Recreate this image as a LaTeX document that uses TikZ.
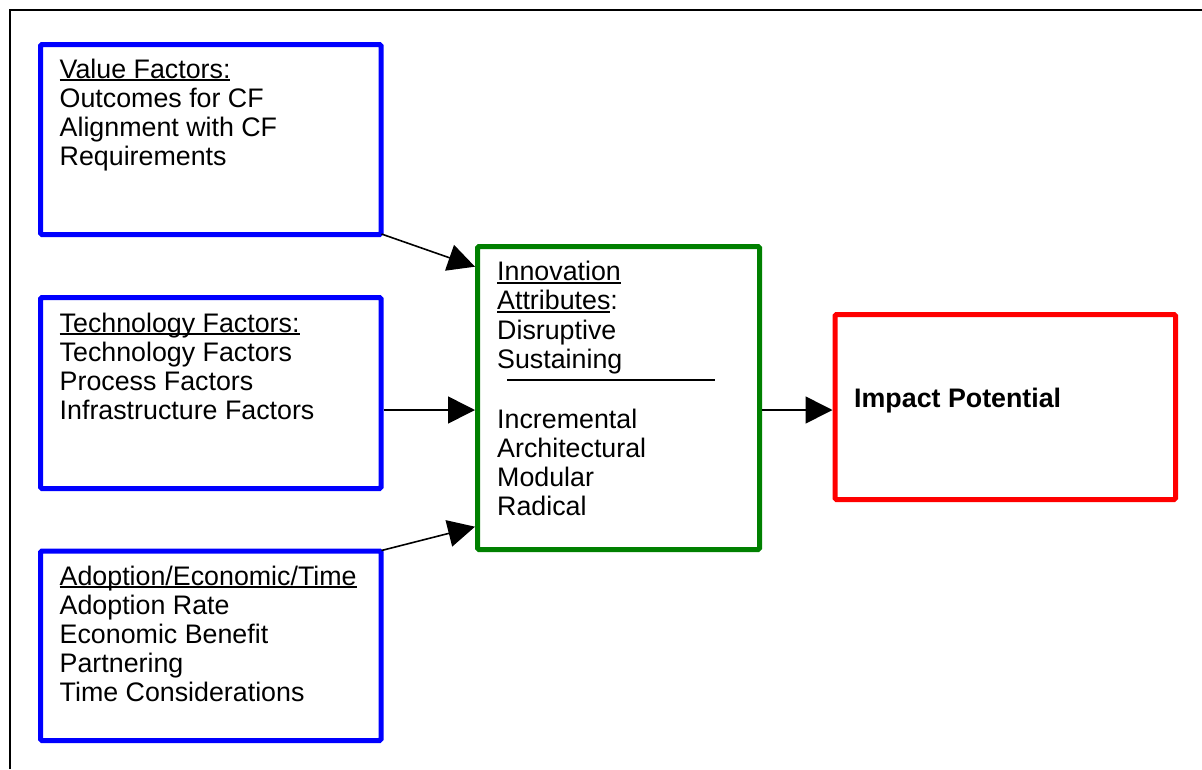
\documentclass[tikz,border=0pt]{standalone}
\usepackage{fontspec}
\setmainfont{Liberation Sans}
\usetikzlibrary{arrows.meta}
\newcommand\myul[1]{\setbox0\hbox{#1}\rlap{\rule[-3pt]{\wd0}{2pt}}\box0}
\definecolor{bxblue}{RGB}{0,0,255}
\definecolor{bxgreen}{RGB}{0,128,0}
\definecolor{bxred}{RGB}{255,0,0}
\begin{document}
\begin{tikzpicture}[x=1pt,y=-1pt,
  box/.style={draw, line width=5pt, inner sep=0pt, rounded corners=1.5pt},
  txt/.style={anchor=base west, inner sep=0pt, font=\fontsize{26.8pt}{29.3pt}\selectfont},
  arr/.style={line width=1.6pt, -{Triangle[length=27pt,width=27pt]}}]
\useasboundingbox (0,0) rectangle (1202,769);
% outer frame
\draw[line width=2pt] (9.5,769) -- (9.5,10) -- (1202,10);
% boxes
\node[box, bxblue, minimum width=340.5pt, minimum height=190pt] (v) at (210.75,139.5) {};
\node[box, bxblue, minimum width=340.5pt, minimum height=191pt] (t) at (210.75,393) {};
\node[box, bxblue, minimum width=340.5pt, minimum height=189.5pt] (a) at (210.75,645.75) {};
\node[box, bxgreen, minimum width=282pt, minimum height=303pt] (g) at (618.5,398) {};
\node[box, bxred, minimum width=340.5pt, minimum height=185pt] (r) at (1005.25,407) {};
% texts
\foreach \t [count=\i] in {{\myul{Value Factors:}}, Outcomes for CF, Alignment with CF, Requirements}
  \node[txt] (vt\i) at (59.5,{78+29.3*(\i-1)}) {\t};
\foreach \t [count=\i] in {{\myul{Technology Factors:}}, Technology Factors, Process Factors, Infrastructure Factors}
  \node[txt] (tt\i) at (59.5,{332+29.1*(\i-1)}) {\t};
\foreach \t [count=\i] in {{\myul{Adoption/Economic/Time}}, Adoption Rate, Economic Benefit, Partnering, Time Considerations}
  \node[txt] (at\i) at (59.5,{585+29.1*(\i-1)}) {\t};
\foreach \t [count=\i] in {{\myul{Innovation}}, {\myul{Attributes}:}, Disruptive, Sustaining}
  \node[txt] (gt\i) at (497,{280.7+29.2*(\i-1)}) {\t};
\foreach \t [count=\i] in {Incremental, Architectural, Modular, Radical}
  \node[txt] (gb\i) at (497,{428+29.1*(\i-1)}) {\t};
\node[txt, font=\fontsize{26.8pt}{29.3pt}\selectfont\bfseries] (rt) at (854,407) {Impact Potential};
% separator in green box
\draw[line width=1.7pt] (507,380) -- (715,380);
% connectors
\coordinate (y410) at (0,410);
\draw[arr] ([shift={(-2,-3)}]v.south east) -- ([shift={(0,22.7)}]g.north west);
\draw[arr] (t.east |- y410) -- (g.west |- y410);
\draw[arr] ([shift={(-2,2)}]a.north east) -- ([shift={(0,-25.3)}]g.south west);
\draw[arr] (g.east |- y410) -- (r.west |- y410);
\end{tikzpicture}
\end{document}
